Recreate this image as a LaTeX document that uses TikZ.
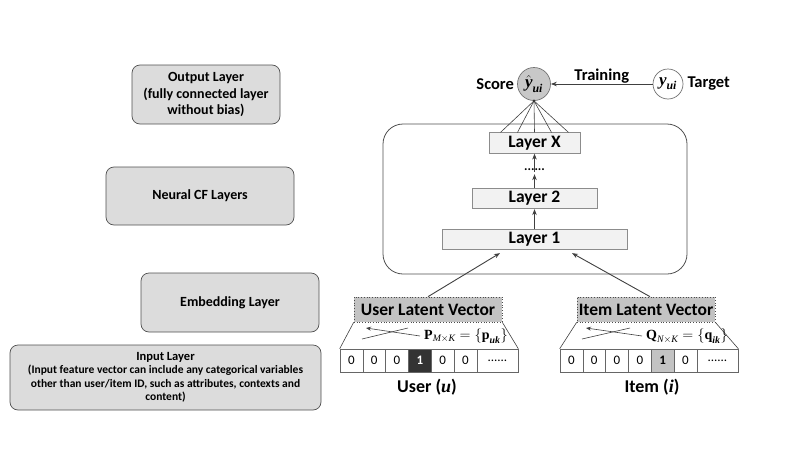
\documentclass[tikz,border=0pt]{standalone}
\usepackage{amsmath}
\usepackage{fontspec}
\setmainfont{Carlito}
\newfontfamily\tms{Liberation Serif}
\newcommand{\tmbi}[1]{\text{\tms\bfseries\itshape #1}}
\newcommand{\tmb}[1]{\text{\tms\bfseries #1}}
\newcommand{\tmi}[1]{\text{\tms\itshape #1}}
\usetikzlibrary{arrows.meta,calc}
\definecolor{boxfill}{HTML}{DCDCDC}
\definecolor{boxline}{HTML}{505050}
\definecolor{layfill}{HTML}{F2F2F2}
\definecolor{layline}{HTML}{8C8C8C}
\definecolor{latfill}{HTML}{C3C3C3}
\definecolor{darkcell}{HTML}{333333}
\definecolor{scorefill}{HTML}{C8C8C8}
\begin{document}
\begin{tikzpicture}[x=1pt,y=-1pt,
  leftbox/.style={draw=boxline,fill=boxfill,rounded corners=8pt,line width=0.7pt,align=center,inner sep=0pt,font=\bfseries\fontsize{14}{16.5}\selectfont},
  laybox/.style={draw=layline,fill=layfill,line width=0.7pt,inner sep=0pt,minimum height=20.5pt,font=\bfseries\fontsize{17.5}{19}\selectfont},
  latbox/.style={draw=black!70,dotted,fill=latfill,line width=0.7pt,inner sep=0pt,minimum height=25pt,font=\bfseries\fontsize{17.5}{19}\selectfont},
  cellbox/.style={draw=black!60,line width=0.6pt,inner sep=0pt,minimum height=23pt,font=\fontsize{13}{15}\selectfont},
  arr/.style={draw=black!75,line width=0.9pt,-{Stealth[length=6pt,width=4.5pt]}},
  thin/.style={draw=black!75,line width=0.6pt},
  lbl/.style={font=\bfseries\fontsize{16.5}{19}\selectfont,inner sep=1pt}
]
\useasboundingbox (0,0) rectangle (800,450);

% left column
\node[leftbox,minimum width=148pt,minimum height=59pt] (out) at (206,94.5) {Output Layer\\(fully connected layer\\without bias)};
\node[leftbox,minimum width=188pt,minimum height=58pt] (ncf) at (200,196) {Neural CF Layers};
\node[leftbox,minimum width=178pt,minimum height=59pt] (emb) at (230,302.5) {Embedding Layer};
\node[leftbox,minimum width=311pt,minimum height=65pt,font=\bfseries\fontsize{11.5}{13.5}\selectfont] (inp) at (165.5,377.5) {{\fontsize{12.5}{14}\selectfont Input Layer}\\(Input feature vector can include any categorical variables\\other than user/item ID, such as attributes, contexts and\\content)};

% big rounded box
\node[draw=boxline,line width=0.8pt,rounded corners=20pt,minimum width=304pt,minimum height=150pt,inner sep=0pt] (ncfbox) at (535,199) {};

% layers
\node[laybox,minimum width=91pt] (LX) at (534.5,143) {Layer X};
\node[laybox,minimum width=125pt] (L2) at (534.5,198.5) {Layer 2};
\node[laybox,minimum width=185pt] (L1) at (534.5,239.5) {Layer 1};
\node[inner sep=0pt,font=\bfseries\fontsize{13}{15}\selectfont] (dots) at (534.5,170) {......};
\draw[arr] (L1.north) -- (L2.south);
\draw[arr] (L2.north) -- ($(dots.south)+(0,3)$);
\draw[arr] ($(dots.north)+(0,3)$) -- (LX.south);

% score and target
\node[circle,draw=black!55,fill=scorefill,line width=0.7pt,minimum size=33pt,inner sep=0pt,font=\fontsize{17}{19}\selectfont] (score) at (534,84) {$\hat{\tmbi{y}}_{\tmbi{ui}}$};
\node[circle,draw=black!55,fill=white,line width=0.7pt,minimum size=30pt,inner sep=0pt,font=\fontsize{17}{19}\selectfont] (target) at (668,84) {$\tmbi{y}_{\tmbi{ui}}$};
\node[lbl,anchor=east] (scorelbl) at ($(score.west)+(-2,0)$) {Score};
\node[lbl,anchor=west] (targetlbl) at ($(target.east)+(3,0)$) {Target};
\draw[arr] (target.west) -- (score.east) node[midway,above,lbl,yshift=-1pt] (train) {Training};
\foreach \dx in {-34,-17,0,17,34} {
  \draw[thin] (score.south) -- ($(LX.north)+(\dx,0)$);
}
\fill[black!80] (score.south) circle (1.5pt);

% latent vector boxes
\node[latbox,minimum width=148pt] (ulv) at (428,309.5) {User Latent Vector};
\node[latbox,minimum width=138pt] (ilv) at (646,309.5) {Item Latent Vector};

% user cells
\foreach \i/\v in {1/0,2/0,3/0,5/0,6/0} {
  \node[cellbox,minimum width=22.8pt] (u\i) at ({340+22.8*(\i-0.5)},360.5) {\v};
}
\node[cellbox,minimum width=22.8pt,fill=darkcell,text=white,font=\bfseries\fontsize{13}{15}\selectfont] (u4) at ({340+22.8*3.5},360.5) {1};
\node[cellbox,minimum width=41.2pt] (u7) at (497.4,360.5) {......};

% item cells
\foreach \i/\v in {1/0,2/0,3/0,4/0,6/0} {
  \node[cellbox,minimum width=22.8pt] (i\i) at ({560+22.8*(\i-0.5)},360.5) {\v};
}
\node[cellbox,minimum width=22.8pt,fill=latfill,font=\bfseries\fontsize{13}{15}\selectfont] (i5) at ({560+22.8*4.5},360.5) {1};
\node[cellbox,minimum width=41.2pt] (i7) at (717.4,360.5) {......};

% trapezoids
\draw[thin] (ulv.south west) -- (u1.north west);
\draw[thin] (ulv.south east) -- (u7.north east);
\draw[thin] (ilv.south west) -- (i1.north west);
\draw[thin] (ilv.south east) -- (i7.north east);

% crossing arrows
\coordinate (ua1) at (420,336); \coordinate (ua2) at (366,328);
\coordinate (ub1) at (362,339); \coordinate (ub2) at (408,328);
\draw[thin,-{Stealth[length=5pt,width=4pt]}] (ua1) -- (ua2);
\draw[thin] (ub1) -- (ub2);
\coordinate (ia1) at (642,336); \coordinate (ia2) at (586,328);
\coordinate (ib1) at (582,339); \coordinate (ib2) at (630,328);
\draw[thin,-{Stealth[length=5pt,width=4pt]}] (ia1) -- (ia2);
\draw[thin] (ib1) -- (ib2);

\node[font=\fontsize{14}{16}\selectfont,inner sep=0pt,anchor=west] (pmat) at (424,336) {$\tmb{P}_{\tmi{M}\times\tmi{K}}=\{\tmb{p}_{\tmbi{uk}}\}$};
\node[font=\fontsize{14}{16}\selectfont,inner sep=0pt,anchor=west] (qmat) at (646,336) {$\tmb{Q}_{\tmi{N}\times\tmi{K}}=\{\tmb{q}_{\tmbi{ik}}\}$};

\node[lbl,font=\bfseries\fontsize{18}{20}\selectfont] (ulab) at (427,387) {User (\tmbi{u})};
\node[lbl,font=\bfseries\fontsize{18}{20}\selectfont] (ilab) at (652,387) {Item (\tmbi{i})};

% embedding to layer 1
\draw[arr] (ulv.north) -- ($(L1.south)+(-34.5,3)$);
\draw[arr] ($(ilv.north)+(4,0)$) -- ($(L1.south)+(37.5,3)$);
\end{tikzpicture}
\end{document}
